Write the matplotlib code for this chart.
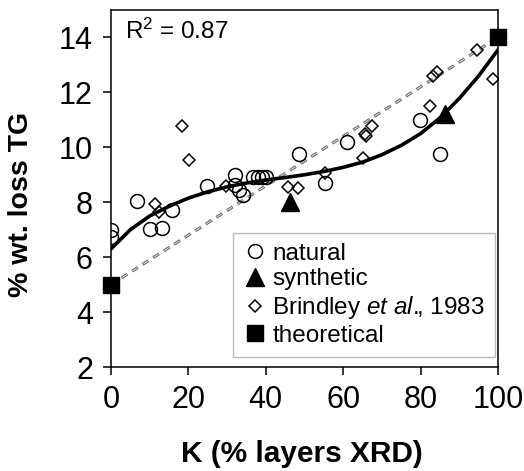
import matplotlib
matplotlib.use('Agg')
import matplotlib.pyplot as plt

# ============================================================================
# DADOS
# ============================================================================

natural_x = [0, 0, 6.7, 10, 13.2, 15.8, 24.8, 32, 32, 33, 34, 36.7, 38, 39, 40,
             48.6, 55.3, 61, 79.8, 85]
natural_y = [7.0, 6.72, 8.04, 7.04, 7.07, 7.73, 8.6, 9.0, 8.64, 8.46, 8.28,
             8.93, 8.93, 8.93, 8.93, 9.74, 8.7, 10.2, 11.0, 9.77]

synthetic_x = [46.3, 86.3]
synthetic_y = [8.0, 11.2]

brindley_x = [11.4, 12.4, 18.3, 20.2, 29.7, 45.7, 48.3, 55.3, 65, 65.6, 66,
              67.4, 82.4, 83.2, 84.2, 94.6, 98.7]
brindley_y = [7.95, 7.66, 10.76, 9.52, 8.6, 8.55, 8.53, 9.08, 9.6, 10.47, 10.4,
              10.76, 11.5, 12.58, 12.73, 13.53, 12.5]

theoretical_x = [0, 100]
theoretical_y = [5, 14]

# linha de tendencia
trend_x = [0, 5, 10, 15, 20, 25, 30, 35, 40, 45, 50, 55, 60, 65, 70, 75, 80,
           85, 90, 95, 100]
trend_y = [6.3, 7.0, 7.5, 7.85, 8.15, 8.38, 8.56, 8.7, 8.81, 8.9, 9.0, 9.12,
           9.27, 9.46, 9.73, 10.07, 10.5, 11.07, 11.78, 12.6, 13.55]

x_ticks = [0, 20, 40, 60, 80, 100]
y_ticks = [2, 4, 6, 8, 10, 12, 14]

# ============================================================================
# ESTILO
# ============================================================================

plt.rcParams['font.family'] = ['Liberation Sans', 'DejaVu Sans']
plt.rcParams['mathtext.fontset'] = 'custom'
plt.rcParams['mathtext.rm'] = 'Liberation Sans'
plt.rcParams['mathtext.it'] = 'Liberation Sans:italic'
plt.rcParams['lines.scale_dashes'] = False

fig = plt.figure(figsize=(5.24, 4.71), dpi=100)
ax = fig.add_axes([0.2118, 0.2208, 0.7386, 0.758])

# linha teorica tracejada (tracos "vazados")
ax.plot(theoretical_x, theoretical_y, color='#707070', lw=2.2,
        linestyle=(0, (5.0, 4.0)), dash_capstyle='butt', zorder=2)
ax.plot(theoretical_x, theoretical_y, color='white', lw=0.5,
        linestyle=(8.5, (4.0, 5.0)), dash_capstyle='butt', zorder=2.1)

# pontos
ax.plot(natural_x, natural_y, 'o', ms=10, mfc='none', mec='black', mew=1.1,
        label='natural', zorder=3)
ax.plot(synthetic_x, synthetic_y, '^', ms=13, color='black',
        label='synthetic', zorder=3)
ax.plot(brindley_x, brindley_y, 'D', ms=5.8, mfc='none', mec='black', mew=1.1,
        label='Brindley $\\mathit{et\\ al.}\\!\\!$, 1983', zorder=3)
ax.plot(theoretical_x, theoretical_y, 's', ms=11, color='black',
        label='theoretical', zorder=5, clip_on=False)

# curva de tendencia
ax.plot(trend_x, trend_y, color='black', lw=2.6, zorder=4,
        solid_capstyle='round')

ax.text(0.035, 0.975, 'R$^2$ = 0.87', transform=ax.transAxes,
        fontsize=17.5, va='top', ha='left')

# ============================================================================
# EIXOS
# ============================================================================

ax.set_xlim(0, 100)
ax.set_ylim(2, 15)
ax.set_xticks(x_ticks)
ax.set_yticks(y_ticks)
ax.tick_params(axis='both', direction='out', length=6, width=1.1,
               labelsize=22, pad=7)
for sp in ax.spines.values():
    sp.set_linewidth(1.1)

ax.set_xlabel('K (% layers XRD)', fontsize=21.5, fontweight='bold')
ax.set_ylabel('% wt. loss TG', fontsize=20.5, fontweight='bold')
ax.xaxis.set_label_coords(0.494, -0.205)
ax.yaxis.set_label_coords(-0.2, 0.455)

leg = ax.legend(loc='lower right', bbox_to_anchor=(0.992, 0.028),
                borderaxespad=0, fontsize=17.5, frameon=True, fancybox=False,
                labelspacing=0.15, handletextpad=0.2, handlelength=1.0,
                borderpad=0.42, framealpha=1)
leg.get_frame().set_edgecolor('#bbbbbb')
leg.get_frame().set_linewidth(1.0)

plt.savefig('out.png', dpi=100)
